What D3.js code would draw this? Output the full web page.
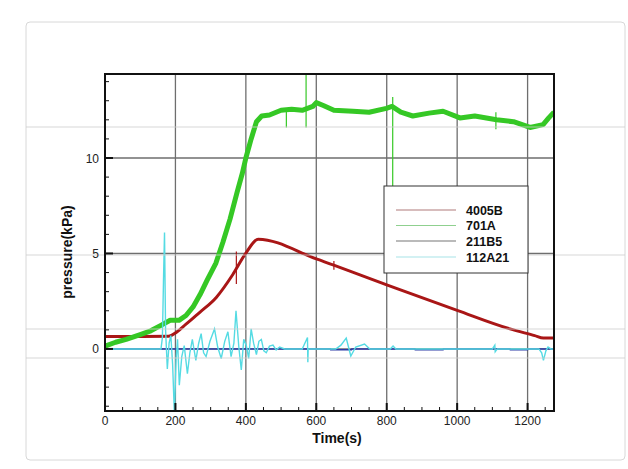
<!DOCTYPE html>
<html><head><meta charset="utf-8">
<script src="https://cdn.jsdelivr.net/npm/d3@7"></script>
<style>body{margin:0;background:#fff;}svg{display:block;font-family:"Liberation Sans",Arial,sans-serif;}</style>
</head><body>
<svg id="c" width="628" height="469"></svg>
<script>
// ---- data ----
const xTicks = [0, 200, 400, 600, 800, 1000, 1200];
const yTicks = [0, 5, 10];
const seriesNames = ["4005B", "701A", "211B5", "112A21"];

const redT = [0, 180, 204, 230, 270, 316, 363, 401, 435, 600, 800, 1000, 1150, 1220, 1245, 1275];
const redV = [0.65, 0.66, 0.89, 1.3, 1.93, 2.7, 3.9, 5.05, 5.75, 4.72, 3.36, 2.02, 1.05, 0.7, 0.57, 0.57];
const redSpikes = [[373, 3.4, 5.1], [650, 4.15, 4.6]];

const greenT = [0, 30, 60, 100, 130, 160, 185, 210, 230, 250, 270, 290, 315, 335, 355, 375, 390, 400, 415, 430, 445, 467, 500, 530, 560, 590, 600, 620, 650, 704, 750, 799, 815, 840, 874, 920, 960, 1008, 1050, 1112, 1160, 1207, 1244, 1260, 1275];
const greenV = [0.15, 0.35, 0.5, 0.75, 0.95, 1.25, 1.5, 1.5, 1.75, 2.2, 2.85, 3.6, 4.5, 5.6, 6.8, 8.2, 9.2, 10.0, 11.0, 11.9, 12.2, 12.25, 12.5, 12.55, 12.5, 12.7, 12.9, 12.75, 12.5, 12.45, 12.4, 12.6, 12.7, 12.4, 12.2, 12.35, 12.45, 12.1, 12.2, 12.0, 11.9, 11.6, 11.75, 12.1, 12.4];
const greenSpikes = [[571, 11.6, 14.6], [817, 4.0, 13.2], [515, 11.6, 12.5], [1110, 11.5, 12.4]];

const blueT = [0, 160, 640, 641, 700, 701, 880, 881, 960, 961, 1150, 1151, 1200, 1201, 1275];
const blueV = [0, 0, 0, -0.04, -0.04, 0, 0, -0.04, -0.04, 0, 0, -0.04, -0.04, 0, 0];

const cyanT = [0, 159, 163, 166, 169, 172, 177, 182, 187, 192, 197, 202, 206, 211, 218, 225, 234, 241, 248, 258, 266, 273, 280, 287, 298, 311, 320, 330, 340, 349, 358, 366, 372, 380, 387, 394, 401, 408, 415, 422, 430, 437, 444, 451, 458, 467, 477, 486, 496, 510, 560, 575, 576, 577, 578, 655, 670, 685, 698, 712, 737, 752, 770, 810, 818, 826, 1100, 1107, 1108, 1114, 1232, 1240, 1245, 1252, 1258, 1266, 1275];
const cyanV = [0, 0, 0.6, 3.5, 6.1, 1.0, -1.05, 0.3, 0.7, -0.8, -3.4, -0.5, 0.5, -1.9, -0.4, 0.17, -1.3, -0.2, 0.5, -0.6, 0.3, 0.8, -0.2, -0.4, 0.4, 1.05, 0.1, -0.5, 0.4, 0.9, -0.4, 0.3, 2.0, 0.1, -1.1, 0.5, 0.2, -0.5, 1.05, 0.3, -0.3, 0.4, 0.5, -0.1, -0.2, 0.15, 0.2, -0.05, 0.1, 0, 0, 0.6, -0.7, 0, 0, 0, 0.2, 0.57, -0.37, 0.1, 0.26, 0, 0, 0, 0.15, 0, 0, 0.2, -0.15, 0, 0, -0.2, -0.6, -0.1, 0.1, 0, 0];

const seriesColors = ["#a91616", "#35c825", "#2c3aa6", "#55dbe3"];
const legendColors = ["#b07a7a", "#8fd08f", "#777777", "#a8e4e8"];

// ---- layout ----
const svg = d3.select("#c");
const L = 105, R = 554, T = 74, B = 411;
const x = d3.scaleLinear().domain([0, 1275]).range([L, R]);
const y = d3.scaleLinear().domain([-3.25, 14.4]).range([B, T]);

// outer frame
svg.append("rect").attr("x", 26).attr("y", 22).attr("width", 599).attr("height", 438)
  .attr("rx", 4).attr("fill", "#fff").attr("stroke", "#d8d8d8").attr("stroke-width", 1);

// clip
svg.append("clipPath").attr("id", "clip").append("rect")
  .attr("x", L).attr("y", T).attr("width", R - L).attr("height", B - T);

// grid
const g = svg.append("g");
g.selectAll(".vg").data(xTicks.filter(d => d > 0)).enter().append("line")
  .attr("x1", d => x(d)).attr("x2", d => x(d)).attr("y1", T).attr("y2", B)
  .attr("stroke", "#6e6e6e").attr("stroke-width", 1.3);
g.selectAll(".hg").data(yTicks).enter().append("line")
  .attr("x1", L).attr("x2", R).attr("y1", d => y(d)).attr("y2", d => y(d))
  .attr("stroke", "#6e6e6e").attr("stroke-width", 1.3);

// lines
const plot = svg.append("g").attr("clip-path", "url(#clip)");
const mk = (T_, V_) => T_.map((t, i) => [t, V_[i]]);

plot.append("path").datum(mk(redT, redV))
  .attr("d", d3.line().x(d => x(d[0])).y(d => y(d[1])).curve(d3.curveMonotoneX))
  .attr("fill", "none").attr("stroke", seriesColors[0]).attr("stroke-width", 3);
plot.selectAll(".rs").data(redSpikes).enter().append("line")
  .attr("x1", d => x(d[0])).attr("x2", d => x(d[0])).attr("y1", d => y(d[1])).attr("y2", d => y(d[2]))
  .attr("stroke", seriesColors[0]).attr("stroke-width", 1.2);

plot.append("path").datum(mk(greenT, greenV))
  .attr("d", d3.line().x(d => x(d[0])).y(d => y(d[1])))
  .attr("fill", "none").attr("stroke", seriesColors[1]).attr("stroke-width", 5).attr("stroke-linejoin", "round");
plot.selectAll(".gs").data(greenSpikes).enter().append("line")
  .attr("x1", d => x(d[0])).attr("x2", d => x(d[0])).attr("y1", d => y(d[1])).attr("y2", d => y(d[2]))
  .attr("stroke", seriesColors[1]).attr("stroke-width", 1.2);

plot.append("path").datum(mk(blueT, blueV)).attr("d", d3.line().x(d => x(d[0])).y(d => y(d[1])))
  .attr("fill", "none").attr("stroke", seriesColors[2]).attr("stroke-width", 1.6);

plot.append("path").datum(mk(cyanT, cyanV)).attr("d", d3.line().x(d => x(d[0])).y(d => y(d[1])))
  .attr("fill", "none").attr("stroke", seriesColors[3]).attr("stroke-width", 1.4);

// light stray horizontal lines across the frame (scan artifacts)
const strayY = [127, 255, 329, 358];
svg.selectAll(".st").data(strayY).enter().append("line")
  .attr("x1", 26).attr("x2", 625).attr("y1", d => d).attr("y2", d => d)
  .attr("stroke", "#cfcfcf").attr("stroke-width", 1).attr("opacity", 0.8);

// ticks (inside)
const ax = svg.append("g");
const xMinor = d3.range(0, 1275, 50);
ax.selectAll(".xt").data(xMinor).enter().append("line")
  .attr("x1", d => x(d)).attr("x2", d => x(d)).attr("y1", B)
  .attr("y2", d => B - (d % 200 === 0 ? 8 : 4)).attr("stroke", "#111").attr("stroke-width", d => d % 200 === 0 ? 2 : 1);
const yMinor = d3.range(-3, 15, 1);
ax.selectAll(".yt").data(yMinor).enter().append("line")
  .attr("y1", d => y(d)).attr("y2", d => y(d)).attr("x1", L)
  .attr("x2", d => L + (d % 5 === 0 ? 8 : 4)).attr("stroke", "#111").attr("stroke-width", d => d % 5 === 0 ? 2 : 1);

// frame
svg.append("rect").attr("x", L).attr("y", T).attr("width", R - L).attr("height", B - T)
  .attr("fill", "none").attr("stroke", "#111").attr("stroke-width", 2);

// tick labels
ax.selectAll(".xl").data(xTicks).enter().append("text")
  .attr("x", d => x(d)).attr("y", B + 14).attr("text-anchor", "middle")
  .attr("font-size", 12).attr("fill", "#222").text(d => d);
ax.selectAll(".yl").data(yTicks).enter().append("text")
  .attr("x", L - 6).attr("y", d => y(d) + 4.5).attr("text-anchor", "end")
  .attr("font-size", 12).attr("fill", "#222").text(d => d);

// axis titles
svg.append("text").attr("x", 337).attr("y", 443).attr("text-anchor", "middle")
  .attr("font-size", 14).attr("font-weight", "bold").attr("fill", "#111").text("Time(s)");
svg.append("text").attr("transform", "translate(72,252) rotate(-90)").attr("text-anchor", "middle")
  .attr("font-size", 14).attr("font-weight", "bold").attr("fill", "#111").text("pressure(kPa)");

// legend
const lg = svg.append("g");
lg.append("rect").attr("x", 384).attr("y", 186).attr("width", 144).attr("height", 87)
  .attr("fill", "#fff").attr("stroke", "#333").attr("stroke-width", 1);
const rowY = [210, 225.5, 241, 257];
seriesNames.forEach((n, i) => {
  lg.append("line").attr("x1", 396).attr("x2", 456).attr("y1", rowY[i]).attr("y2", rowY[i])
    .attr("stroke", legendColors[i]).attr("stroke-width", 1.2);
  lg.append("text").attr("x", 466).attr("y", rowY[i] + 4.5).attr("font-size", 12.5)
    .attr("font-weight", "bold").attr("fill", "#111").text(n);
});
</script>
</body></html>
